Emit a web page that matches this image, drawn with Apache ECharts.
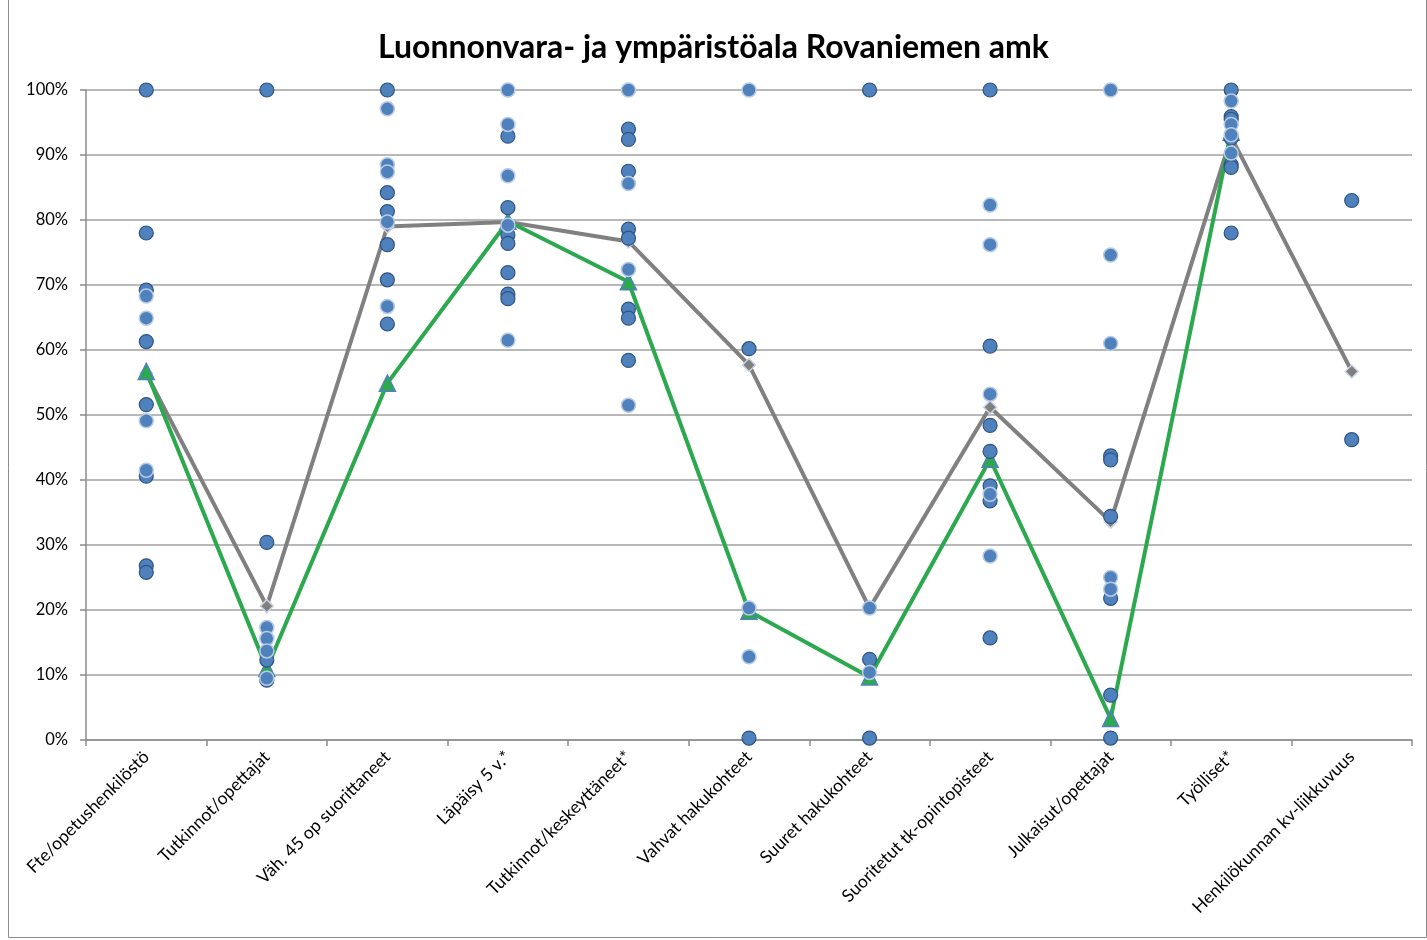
<!DOCTYPE html>
<html>
<head>
<meta charset="utf-8">
<script src="https://cdn.jsdelivr.net/npm/echarts@6/dist/echarts.min.js"></script>
<style>
  html, body { margin: 0; padding: 0; background: #fff; }
  #chart { width: 1427px; height: 940px; }
</style>
</head>
<body>
<div id="chart"></div>
<script>
// luokat (x-akseli)
var categories = [
  'Fte/opetushenkilöstö', 'Tutkinnot/opettajat', 'Väh. 45 op suorittaneet',
  'Läpäisy 5 v.*', 'Tutkinnot/keskeyttäneet*', 'Vahvat hakukohteet',
  'Suuret hakukohteet', 'Suoritetut tk-opintopisteet', 'Julkaisut/opettajat',
  'Työlliset*', 'Henkilökunnan kv-liikkuvuus'
];

// harmaa viiva (keskiarvo)
var greyLine = [56.4, 20.6, 79.0, 79.7, 76.7, 57.7, 20.3, 51.2, 33.6, 92.8, 56.7];
// vihreä viiva (Rovaniemen amk)
var greenLine = [56.7, 11.0, 54.9, 79.8, 70.5, 19.8, 9.7, 43.2, 3.3, 93.5, null];

// muiden amk:iden pisteet, tummalla reunalla
var pointsDark = [
  [100, 78.0, 69.2, 61.3, 51.6, 40.6, 26.8, 25.8],
  [100, 30.4, 12.3, 9.2],
  [100, 84.2, 81.3, 76.2, 70.8, 64.0],
  [92.9, 81.9, 77.7, 76.4, 71.9, 68.6, 67.9],
  [94.0, 92.4, 87.5, 78.6, 77.2, 66.3, 64.9, 58.4],
  [60.2, 0.3],
  [100, 12.4, 0.3],
  [100, 60.6, 48.4, 44.4, 39.1, 36.8, 15.7],
  [43.7, 43.1, 34.4, 21.8, 6.9, 0.3],
  [100, 95.9, 95.5, 92.6, 88.5, 88.1, 78.0],
  [83.0, 46.2]
];
// ... ja vaalealla reunalla
var pointsLight = [
  [68.3, 64.9, 49.1, 41.5],
  [17.3, 15.6, 13.7, 9.5],
  [97.1, 88.5, 87.4, 79.7, 66.7],
  [100, 94.7, 86.8, 79.2, 61.5],
  [100, 85.6, 72.4, 51.5],
  [100, 20.3, 12.8],
  [20.3, 10.4],
  [82.3, 76.2, 53.2, 37.8, 28.3],
  [100, 74.6, 61.0, 25.0, 23.2],
  [98.3, 94.7, 93.1, 90.3],
  []
];

function toPairs(list) {
  var out = [];
  list.forEach(function (vals, i) {
    vals.forEach(function (v) { out.push([i, v]); });
  });
  return out;
}

var chart = echarts.init(document.getElementById('chart'));

var option = {
  backgroundColor: '#ffffff',
  animation: false,
  textStyle: { fontFamily: 'Lato' },
  title: {
    text: 'Luonnonvara- ja ympäristöala Rovaniemen amk',
    left: 'center',
    top: 27,
    textStyle: { fontFamily: 'Lato', fontSize: 32, fontWeight: 'bold', color: '#000' }
  },
  graphic: [{
    type: 'rect',
    shape: { x: 8.5, y: -1, width: 1418, height: 938.5 },
    style: { fill: 'none', stroke: '#8c8c8c', lineWidth: 1 },
    silent: true
  }],
  grid: { left: 86, right: 15, top: 90, bottom: 200 },
  xAxis: {
    type: 'category',
    data: categories,
    boundaryGap: true,
    axisLine: { lineStyle: { color: '#8c8c8c', width: 1.5 } },
    axisTick: { show: true, length: 6, lineStyle: { color: '#8c8c8c', width: 1.5 } },
    axisLabel: { rotate: 45, fontSize: 17.5, color: '#000', margin: 14, interval: 0 }
  },
  yAxis: {
    type: 'value',
    min: 0,
    max: 100,
    interval: 10,
    axisLine: { show: true, lineStyle: { color: '#8c8c8c', width: 1.5 } },
    axisTick: { show: true, length: 6, lineStyle: { color: '#8c8c8c', width: 1.5 } },
    axisLabel: { formatter: '{value}%', fontSize: 16.5, color: '#000', margin: 18 },
    splitLine: { lineStyle: { color: '#a0a0a0', width: 1.5 } }
  },
  series: [
    {
      name: 'keskiarvo',
      type: 'line',
      data: greyLine,
      z: 2,
      lineStyle: { color: '#808080', width: 4 },
      symbol: 'diamond',
      symbolSize: 13,
      itemStyle: { color: '#7f7f7f', borderColor: '#c9d3e3', borderWidth: 1.5 }
    },
    {
      name: 'Rovaniemen amk',
      type: 'line',
      data: greenLine,
      z: 3,
      lineStyle: { color: '#2ca84f', width: 4 },
      symbol: 'triangle',
      symbolSize: 16,
      itemStyle: { color: '#2ca84f', borderColor: '#4f81bd', borderWidth: 1.5 }
    },
    {
      name: 'muut',
      type: 'scatter',
      data: toPairs(pointsDark),
      z: 4,
      symbolSize: 14,
      itemStyle: { color: '#4f81bd', borderColor: '#2f5483', borderWidth: 1.2, opacity: 1 }
    },
    {
      name: 'muut2',
      type: 'scatter',
      data: toPairs(pointsLight),
      z: 5,
      symbolSize: 14,
      itemStyle: { color: '#4f81bd', borderColor: '#b9cbe4', borderWidth: 1.5, opacity: 1 }
    }
  ]
};

chart.setOption(option);
</script>
</body>
</html>
